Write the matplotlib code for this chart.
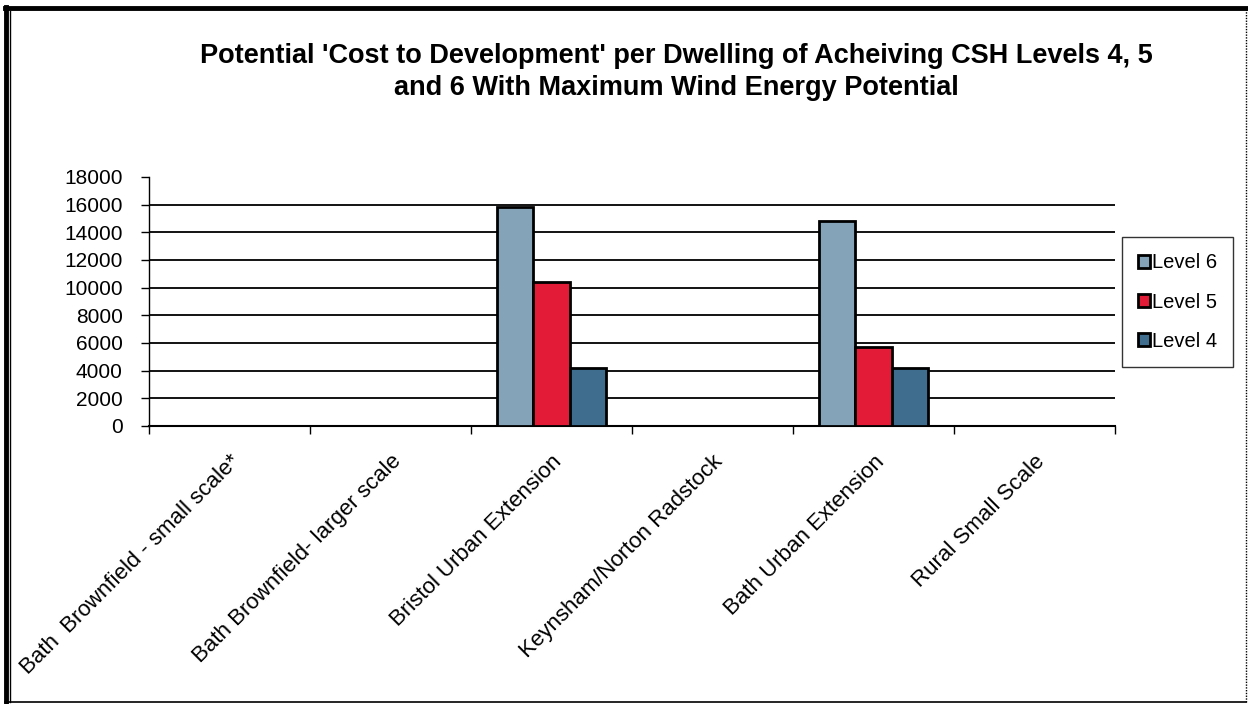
import matplotlib.pyplot as plt
import numpy as np
from matplotlib.lines import Line2D

plt.rcParams['font.family'] = ['Liberation Sans', 'DejaVu Sans']

categories = ['Bath  Brownfield - small scale*', 'Bath Brownfield- larger scale',
              'Bristol Urban Extension', 'Keynsham/Norton Radstock',
              'Bath Urban Extension', 'Rural Small Scale']
level6 = [np.nan, np.nan, 15850, np.nan, 14800, np.nan]
level5 = [np.nan, np.nan, 10400, np.nan, 5700, np.nan]
level4 = [np.nan, np.nan, 4200, np.nan, 4200, np.nan]
series = ['Level 6', 'Level 5', 'Level 4']
colors = ['#84A2B8', '#E41B37', '#3E6D8E']

fig = plt.figure(figsize=(12.48, 7.04), dpi=100)
ax = fig.add_axes([0.1194, 0.3949, 0.774, 0.3537])

x = np.arange(len(categories))
w = 0.224
for i, (vals, name, c) in enumerate(zip([level6, level5, level4], series, colors)):
    ax.bar(x + (i - 1) * w, vals, w, color=c, edgecolor='black', linewidth=2,
           label=name, zorder=3)

ax.set_xlim(-0.5, len(categories) - 0.5)
ax.set_ylim(0, 18000)
ax.set_yticks(np.arange(0, 18001, 2000))
for yv in range(2000, 18000, 2000):
    ax.axhline(yv, color='black', linewidth=1.3, zorder=1)

ax.set_xticks(np.arange(-0.5, len(categories), 1))
ax.set_xticklabels([])
ax.set_xticks(x, minor=True)
ax.set_xticklabels(categories, minor=True, rotation=45, ha='right', va='top',
                   rotation_mode='anchor', fontsize=16)
ax.tick_params(axis='x', which='minor', length=0, pad=18)
ax.tick_params(axis='x', which='major', direction='out', length=6, width=1)
ax.tick_params(axis='y', direction='out', length=6, width=1, labelsize=15, pad=13)

for s in ['top', 'right']:
    ax.spines[s].set_visible(False)
ax.spines['left'].set_linewidth(1)
ax.spines['bottom'].set_linewidth(1.5)

leg = ax.legend(loc='center', bbox_to_anchor=(0.9435, 0.571), bbox_transform=fig.transFigure,
                fontsize=14.5, frameon=True, fancybox=False, edgecolor='black',
                handlelength=0.6, handleheight=0.6, handletextpad=0.1,
                labelspacing=1.0, borderpad=0.8)
leg.get_frame().set_linewidth(1)

fig.text(0.5417, 0.898, "Potential 'Cost to Development' per Dwelling of Acheiving CSH Levels 4, 5\nand 6 With Maximum Wind Energy Potential",
         ha='center', va='center', fontsize=19.5, fontweight='bold', linespacing=1.32)

# frame around the whole chart: heavy top/left, light right/bottom
fig.add_artist(Line2D([0.004, 0.998], [0.9893, 0.9893], color='black', linewidth=3.5))
fig.add_artist(Line2D([0.0052, 0.0052], [0.003, 0.99], color='black', linewidth=3.5))
fig.add_artist(Line2D([0.0082, 0.0082], [0.003, 0.985], color='black', linewidth=1))
fig.add_artist(Line2D([0.9985, 0.9985], [0.003, 0.99], color='black', linewidth=1, linestyle=(0, (1, 1))))
fig.add_artist(Line2D([0.004, 0.998], [0.003, 0.003], color='black', linewidth=1.2))

fig.savefig('out.png', dpi=100)
